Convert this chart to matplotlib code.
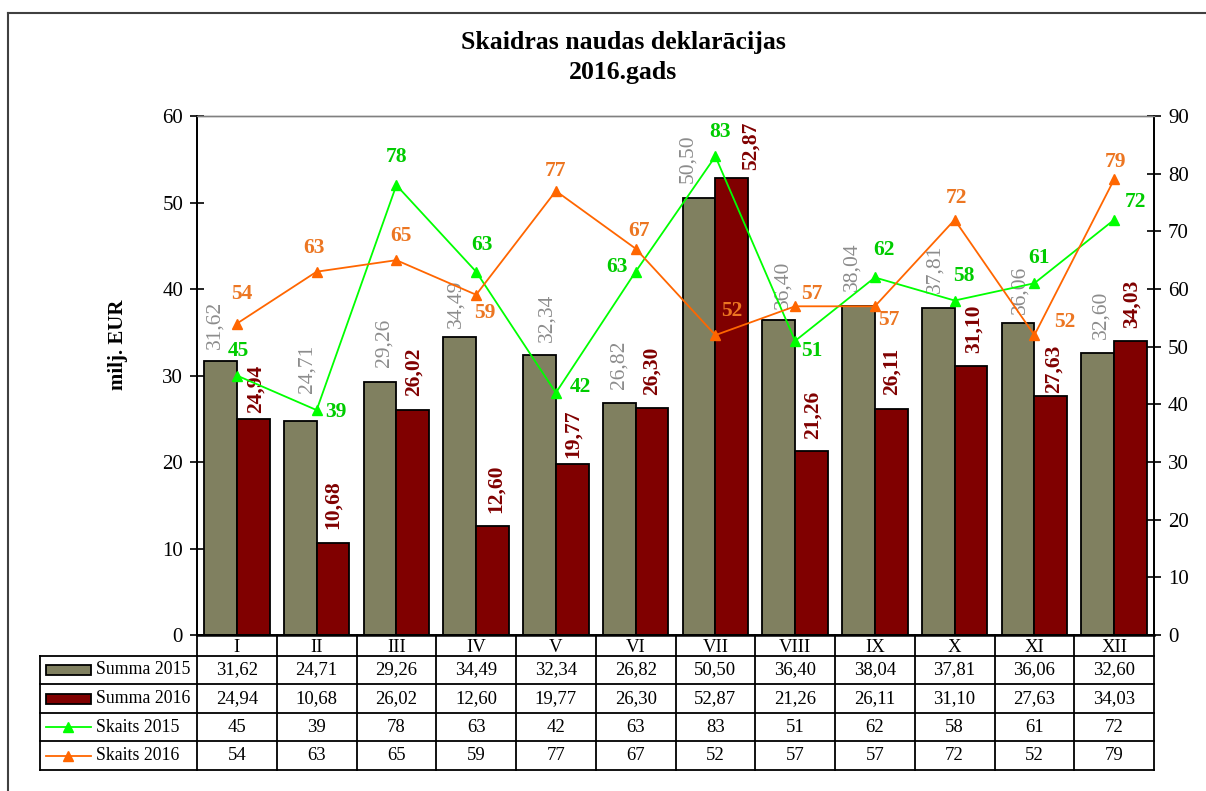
import numpy as np
import matplotlib
matplotlib.use('Agg')
import matplotlib.pyplot as plt
from matplotlib.patches import Rectangle
from matplotlib.lines import Line2D

plt.rcParams['font.family'] = ['Liberation Serif', 'DejaVu Serif']

# data
months = ['I', 'II', 'III', 'IV', 'V', 'VI', 'VII', 'VIII', 'IX', 'X', 'XI', 'XII']
summa_2015 = [31.62, 24.71, 29.26, 34.49, 32.34, 26.82, 50.50, 36.40, 38.04, 37.81, 36.06, 32.60]
summa_2016 = [24.94, 10.68, 26.02, 12.60, 19.77, 26.30, 52.87, 21.26, 26.11, 31.10, 27.63, 34.03]
skaits_2015 = [45, 39, 78, 63, 42, 63, 83, 51, 62, 58, 61, 72]
skaits_2016 = [54, 63, 65, 59, 77, 67, 52, 57, 57, 72, 52, 79]

# label placement (pixels: dx, dy-up / gap above bar)
off_s15 = [(1, 25), (19, -2), (0, 28), (6, 27), (24, 6), (-19, 5),
           (5, 24), (17, -10), (9, 27), (9, 25), (5, 25), (21, 18)]
off_s16 = [(5, 30), (-3, 24), (5, 24), (9, -18), (0, 20), (3, 18),
           (16, 24), (17, 12), (14, -14), (2, 22), (30, 13), (1, 17)]
off_b15 = [(-6, 12), (7, 28), (4, 15), (-4, 9), (7, 13), (0, 14),
           (-11, 15), (4, 11), (-7, 15), (-3, 15), (2, 9), (3, 14)]
off_b16 = [(2, 6), (0, 14), (1, 14), (3, 13), (1, 6), (0, 13),
           (19, 8), (1, 12), (0, 14), (3, 13), (3, 3), (1, 13)]

C_OLIVE = '#808060'
C_MAROON = '#800000'
C_GREEN = '#00ff00'
C_ORANGE = '#ff6600'
C_GREEN_TXT = '#00cc00'
C_ORANGE_TXT = '#ec7622'
C_GRAY_TXT = '#8c8c8c'


def fmt(v):
    return f'{v:.2f}'.replace('.', ',')


W, H = 1206, 791
fig = plt.figure(figsize=(W / 100, H / 100), dpi=100)

# plot area in pixels
L, R, T, B = 197, 1154, 116, 635
ax = fig.add_axes([L / W, 1 - B / H, (R - L) / W, (B - T) / H])
ax2 = ax.twinx()

x = np.arange(len(months))
w = 0.41
ax.bar(x - w / 2, summa_2015, w, color=C_OLIVE, edgecolor='black', linewidth=1.3, zorder=2)
ax.bar(x + w / 2, summa_2016, w, color=C_MAROON, edgecolor='black', linewidth=1.3, zorder=2)

ax2.plot(x, skaits_2015, color=C_GREEN, lw=1.3, marker='^', ms=7, zorder=3)
ax2.plot(x, skaits_2016, color=C_ORANGE, lw=1.3, marker='^', ms=7, zorder=3)

ax.set_xlim(-0.5, len(months) - 0.5)
ax.set_ylim(0, 60)
ax2.set_ylim(0, 90)
ax.set_yticks(np.arange(0, 61, 10))
ax2.set_yticks(np.arange(0, 91, 10))
ax.set_xticks([])

for a in (ax, ax2):
    a.tick_params(axis='y', direction='inout', length=10, width=1.2,
                  labelsize=15, pad=5)
    for s in a.spines.values():
        s.set_linewidth(1.3)
    a.spines['top'].set_color('#808080')
    a.spines['top'].set_linewidth(1.0)
ax.spines['bottom'].set_linewidth(1.8)

# bar labels
for i in range(len(months)):
    dx, g = off_b15[i]
    ax.annotate(fmt(summa_2015[i]), (x[i] - w / 2, summa_2015[i]),
                xytext=(dx, g), textcoords='offset pixels', rotation=90,
                ha='center', va='bottom', fontsize=15.5, color=C_GRAY_TXT,
                zorder=5)
    dx, g = off_b16[i]
    ax.annotate(fmt(summa_2016[i]), (x[i] + w / 2, summa_2016[i]),
                xytext=(dx, g), textcoords='offset pixels', rotation=90,
                ha='center', va='bottom', fontsize=15.5, fontweight='bold',
                color=C_MAROON, zorder=5)

# line labels
for i in range(len(months)):
    ax2.annotate(str(skaits_2015[i]), (x[i], skaits_2015[i]),
                 xytext=off_s15[i], textcoords='offset pixels',
                 ha='center', va='center', fontsize=15.5, fontweight='bold',
                 color=C_GREEN_TXT)
    ax2.annotate(str(skaits_2016[i]), (x[i], skaits_2016[i]),
                 xytext=off_s16[i], textcoords='offset pixels',
                 ha='center', va='center', fontsize=15.5, fontweight='bold',
                 color=C_ORANGE_TXT)

# data table under the axis
tr = ax.get_xaxis_transform()
px = (R - L) / len(months)          # pixels per category


def yf(py):
    return (B - py) / (B - T)


def xd(pxl):
    return -0.5 + (pxl - L) / px


head_bot = 656
rows = [656, 684, 713, 741, 770]
tbl = dict(color='black', lw=1.3, transform=tr, clip_on=False)

for i in range(len(months) + 1):
    ax.plot([i - 0.5, i - 0.5], [yf(B), yf(rows[-1])], **tbl)
ax.plot([xd(40), xd(40)], [yf(rows[0]), yf(rows[-1])], **tbl)
for r in rows:
    ax.plot([xd(40), len(months) - 0.5], [yf(r), yf(r)], **tbl)

for i, m in enumerate(months):
    ax.text(i, yf(647), m, transform=tr, ha='center',
            va='center', fontsize=13.5)

table_rows = [
    ('Summa 2015', [fmt(v) for v in summa_2015]),
    ('Summa 2016', [fmt(v) for v in summa_2016]),
    ('Skaits 2015', [str(v) for v in skaits_2015]),
    ('Skaits 2016', [str(v) for v in skaits_2016]),
]
for k, (name, vals) in enumerate(table_rows):
    yc = (rows[k] + rows[k + 1]) / 2
    for i, v in enumerate(vals):
        ax.text(i, yf(yc), v, transform=tr, ha='center', va='center',
                fontsize=13.5)
    ax.text(xd(96), yf(yc), name, transform=tr, ha='left', va='center',
            fontsize=12.8)

# legend keys in the table
gx0, gx1 = xd(46), xd(91)
for k, c in enumerate([C_OLIVE, C_MAROON]):
    yc = (rows[k] + rows[k + 1]) / 2
    ax.add_patch(Rectangle((gx0, yf(yc + 5)), gx1 - gx0, yf(yc - 5) - yf(yc + 5),
                           facecolor=c, edgecolor='black', lw=1.3,
                           transform=tr, clip_on=False))
for k, c in [(2, C_GREEN), (3, C_ORANGE)]:
    yc = (rows[k] + rows[k + 1]) / 2
    ax.plot([gx0, gx1], [yf(yc), yf(yc)], color=c, lw=1.3, transform=tr,
            clip_on=False)
    ax.plot([(gx0 + gx1) / 2], [yf(yc)], marker='^', ms=7, color=c,
            transform=tr, clip_on=False)

# titles
fig.text(623 / W, 1 - 42 / H, 'Skaidras naudas deklarācijas', ha='center',
         va='center', fontsize=18.5, fontweight='bold')
fig.text(623 / W, 1 - 72 / H, '2016.gads', ha='center', va='center',
         fontsize=18.5, fontweight='bold')
fig.text(118 / W, 1 - 345 / H, 'milj. EUR', rotation=90, ha='center',
         va='center', fontsize=15, fontweight='bold')

# chart frame
fig.add_artist(Line2D([8 / W, 8 / W], [0, 1 - 13 / H], color='#404040', lw=1.5))
fig.add_artist(Line2D([8 / W, 1], [1 - 13 / H, 1 - 13 / H], color='#404040', lw=1.5))

fig.savefig('out.png', dpi=100)
